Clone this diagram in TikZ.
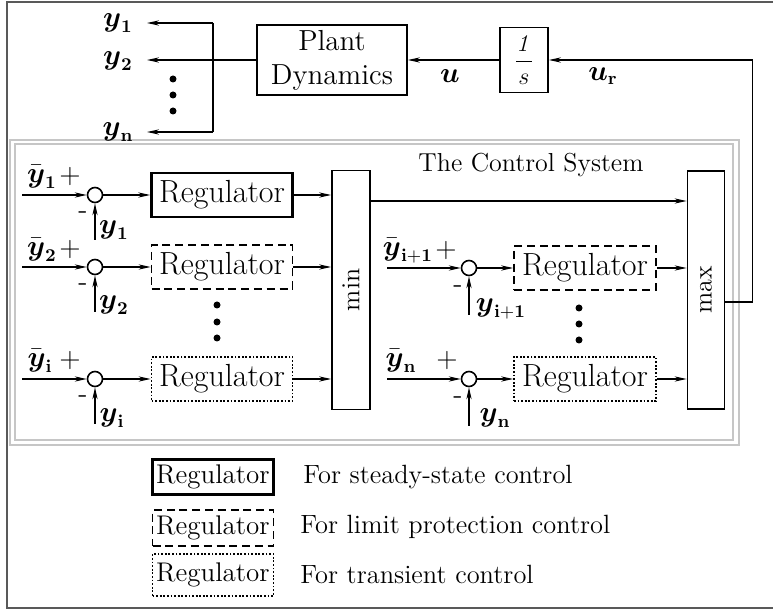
\documentclass[tikz,border=0pt]{standalone}
\usepackage{amsmath}
\usetikzlibrary{arrows.meta}

\begin{document}
\begin{tikzpicture}[x=0.5pt,y=-0.5pt,
  arr/.style={-{Stealth[length=6pt,width=2.6pt]},line width=0.6pt},
  blk/.style={draw,line width=0.9pt,inner sep=0pt},
  reg/.style={blk,minimum width=70.5pt,minimum height=22pt,font=\fontsize{16}{18}\selectfont},
  steadyreg/.style={reg,line width=1.3pt},
  limitreg/.style={reg,dash pattern=on 4pt off 2.4pt},
  transreg/.style={reg,dash pattern=on 0.9pt off 0.9pt},
  sumj/.style={draw,circle,line width=0.8pt,minimum size=7.5pt,inner sep=0pt},
  lbl/.style={font=\fontsize{13.5}{15}\selectfont,inner sep=0pt},
  sgn/.style={font=\fontsize{14}{15}\selectfont,inner sep=0pt},
  legreg/.style={minimum width=60.5pt,font=\fontsize{13.5}{15}\selectfont},
  legtxt/.style={anchor=west,inner sep=0pt,font=\fontsize{13.2}{15}\selectfont}]

  \useasboundingbox (0,0) rectangle (773,610);
  % frames
  \draw[gray!70!black,line width=1pt] (773,2) -- (7,2) -- (7,608) -- (773,608);
  \draw[gray!45,line width=1pt] (10,140) rectangle (739,445);
  \draw[gray!45,line width=1pt] (15,144) rectangle (733,440);

  % plant and integrator
  \node[blk,minimum width=75pt,minimum height=35pt,align=center,font=\fontsize{14.5}{17}\selectfont] (plant) at (332,60) {Plant\\Dynamics};
  \node[blk,minimum width=24pt,minimum height=32.5pt,font=\fontsize{13}{14}\selectfont] (integ) at (524,60) {$\dfrac{\mathit{1}}{s}$};
  \node[lbl] (u) at (450,76) {$\boldsymbol{u}$};
  \node[lbl] (ur) at (603,76) {$\boldsymbol{u}_{\mathbf{r}}$};
  \node[lbl] (ly1) at (118,23) {$\boldsymbol{y}_{\mathbf{1}}$};
  \node[lbl] (ly2) at (118,61) {$\boldsymbol{y}_{\mathbf{2}}$};
  \node[lbl] (lyn) at (118,132) {$\boldsymbol{y}_{\mathbf{n}}$};
  \coordinate (o1) at (147,23);
  \coordinate (o2) at (147,60);
  \coordinate (on) at (147,132);
  \coordinate (bt) at (213,23);
  \coordinate (bb) at (213,132);
  \draw[arr] (integ) -- (plant);
  \draw[arr] (plant) -- (o2);
  \draw[line width=0.6pt] (bt) -- (bb);
  \draw[arr] (bt) -- (o1);
  \draw[arr] (bb) -- (on);
  \fill (173,79) circle (3.5);
  \fill (173,95) circle (3.5);
  \fill (173,111) circle (3.5);

  % control system
  \node[font=\fontsize{13}{15}\selectfont] (title) at (531,165) {The Control System};
  \node[blk,rotate=90,minimum width=119.5pt,minimum height=19pt,font=\fontsize{13}{14}\selectfont] (min) at (351,290) {min};
  \node[blk,rotate=90,minimum width=119pt,minimum height=18.5pt,font=\fontsize{13}{14}\selectfont] (max) at (706,290) {max};

  % row 1
  \node[sumj] (s1) at (95,195) {};
  \node[steadyreg] (r1) at (222,195) {Regulator};
  \coordinate (in1) at (22,195);
  \coordinate (fb1) at (95,240);
  \node[lbl] (ry1) at (42,177) {$\bar{\boldsymbol{y}}_{\mathbf{1}}$};
  \node[sgn] (p1) at (70,177) {+};
  \node[sgn] (m1) at (83,215) {-};
  \node[lbl] (fy1) at (114,230) {$\boldsymbol{y}_{\mathbf{1}}$};
  \draw[arr] (in1) -- (s1);
  \draw[arr] (fb1) -- (s1);
  \draw[arr] (s1) -- (r1);
  \draw[arr] (r1) -- (r1 -| min.north);

  % row 2
  \node[sumj] (s2) at (95,267) {};
  \node[limitreg] (r2) at (222,267) {Regulator};
  \coordinate (in2) at (22,267);
  \coordinate (fb2) at (95,312);
  \node[lbl] (ry2) at (42,250) {$\bar{\boldsymbol{y}}_{\mathbf{2}}$};
  \node[sgn] (p2) at (70,250) {+};
  \node[sgn] (m2) at (83,287) {-};
  \node[lbl] (fy2) at (114,305) {$\boldsymbol{y}_{\mathbf{2}}$};
  \draw[arr] (in2) -- (s2);
  \draw[arr] (fb2) -- (s2);
  \draw[arr] (s2) -- (r2);
  \draw[arr] (r2) -- (r2 -| min.north);
  \fill (217,305) circle (3.5);
  \fill (217,322) circle (3.5);
  \fill (217,338) circle (3.5);

  % row i
  \node[sumj] (s3) at (95,379) {};
  \node[transreg] (r3) at (222,379) {Regulator};
  \coordinate (in3) at (22,379);
  \coordinate (fb3) at (95,424);
  \node[lbl] (ry3) at (40,361) {$\bar{\boldsymbol{y}}_{\mathbf{i}}$};
  \node[sgn] (p3) at (70,361) {+};
  \node[sgn] (m3) at (83,399) {-};
  \node[lbl] (fy3) at (112,418) {$\boldsymbol{y}_{\mathbf{i}}$};
  \draw[arr] (in3) -- (s3);
  \draw[arr] (fb3) -- (s3);
  \draw[arr] (s3) -- (r3);
  \draw[arr] (r3) -- (r3 -| min.north);

  % row i+1
  \node[sumj] (s4) at (469,268) {};
  \node[limitreg,minimum width=71pt] (r4) at (585,268) {Regulator};
  \coordinate (in4) at (387,268);
  \coordinate (fb4) at (469,315);
  \node[lbl] (ry4) at (408,251) {$\bar{\boldsymbol{y}}_{\mathbf{i+1}}$};
  \node[sgn] (p4) at (446,251) {+};
  \node[sgn] (m4) at (458,289) {-};
  \node[lbl] (fy4) at (501,309) {$\boldsymbol{y}_{\mathbf{i+1}}$};
  \draw[arr] (in4) -- (s4);
  \draw[arr] (fb4) -- (s4);
  \draw[arr] (s4) -- (r4);
  \draw[arr] (r4) -- (r4 -| max.north);
  \fill (579,308) circle (3.5);
  \fill (579,324) circle (3.5);
  \fill (579,340) circle (3.5);

  % row n
  \node[sumj] (s5) at (469,379) {};
  \node[transreg,minimum width=71pt] (r5) at (585,379) {Regulator};
  \coordinate (in5) at (387,379);
  \coordinate (fb5) at (469,426);
  \node[lbl] (ry5) at (401,361) {$\bar{\boldsymbol{y}}_{\mathbf{n}}$};
  \node[sgn] (p5) at (447,361) {+};
  \node[sgn] (m5) at (458,400) {-};
  \node[lbl] (fy5) at (495,418) {$\boldsymbol{y}_{\mathbf{n}}$};
  \draw[arr] (in5) -- (s5);
  \draw[arr] (fb5) -- (s5);
  \draw[arr] (s5) -- (r5);
  \draw[arr] (r5) -- (r5 -| max.north);

  % min, max and feedback to the plant
  \draw[arr] ([yshift=44.5pt]min.south) -- ([yshift=44.5pt]max.north);
  \draw[arr] ([yshift=-6pt]max.south) -- ++(13.5pt,0) |- (integ.east);

  % legend
  \node[steadyreg,legreg,minimum height=17.5pt] (k1) at (213,477) {Regulator};
  \node[limitreg,legreg,minimum height=18pt] (k2) at (213,528) {Regulator};
  \node[transreg,legreg,minimum height=21pt] (k3) at (213,575) {Regulator};
  \node[legtxt] (t1) at (303,477) {For steady-state control};
  \node[legtxt] (t2) at (300,527) {For limit protection control};
  \node[legtxt] (t3) at (300,574) {For transient control};
\end{tikzpicture}
\end{document}
